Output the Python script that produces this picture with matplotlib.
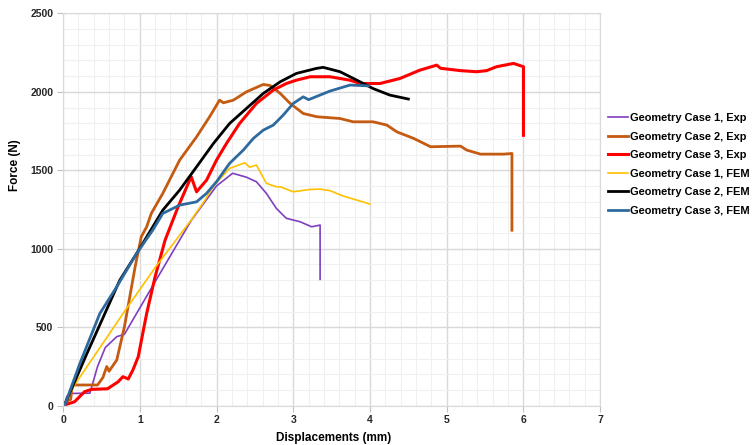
import matplotlib
matplotlib.use('Agg')
import matplotlib.pyplot as plt
from matplotlib.ticker import MultipleLocator

plt.rcParams['font.family'] = ['Liberation Sans', 'DejaVu Sans']

################################################################################
# Data

# Geometry Case 1, Exp
case1ExpX = [0.0, 0.02, 0.05, 0.1, 0.35, 0.45, 0.55, 0.7, 0.8, 1.2, 1.67, 2.0, 2.21,
	2.39, 2.52, 2.65, 2.78, 2.91, 3.09, 3.24, 3.35, 3.35]
case1ExpY = [0, 10, 60, 78, 80, 250, 370, 440, 455, 790, 1180, 1400, 1481,
	1456, 1427, 1353, 1257, 1194, 1172, 1140, 1151, 805]

# Geometry Case 2, Exp
case2ExpX = [0.0, 0.05, 0.1, 0.12, 0.45, 0.52, 0.57, 0.6, 0.7, 0.8, 0.94, 1.02, 1.09,
	1.15, 1.3, 1.52, 1.74, 1.91, 2.04, 2.09, 2.22, 2.39, 2.61, 2.7, 2.83, 2.96, 3.13,
	3.31, 3.61, 3.78, 4.04, 4.22, 4.35, 4.57, 4.79, 5.18, 5.26, 5.44, 5.74, 5.85, 5.85]
case2ExpY = [0, 30, 40, 132, 132, 180, 250, 220, 291, 503, 886, 1077, 1140,
	1225, 1353, 1565, 1713, 1841, 1947, 1930, 1947, 2000, 2047, 2040, 1990, 1926, 1862,
	1841, 1830, 1809, 1809, 1788, 1745, 1703, 1650, 1654, 1629, 1603, 1603, 1607, 1118]

# Geometry Case 3, Exp
case3ExpX = [0.0, 0.02, 0.15, 0.28, 0.37, 0.58, 0.72, 0.78, 0.85, 0.91, 0.98, 1.09,
	1.2, 1.33, 1.5, 1.67, 1.74, 1.87, 2.0, 2.13, 2.3, 2.52, 2.74, 2.91, 3.04, 3.22,
	3.48, 3.74, 3.87, 4.13, 4.39, 4.65, 4.87, 4.92, 5.18, 5.39, 5.52, 5.65, 5.87,
	6.0, 6.0]
case3ExpY = [0, 5, 25, 89, 104, 108, 153, 185, 170, 227, 312, 588,
	822, 1055, 1268, 1459, 1363, 1437, 1565, 1671, 1798, 1926, 2011, 2053, 2074, 2096,
	2096, 2074, 2053, 2053, 2085, 2138, 2170, 2150, 2135, 2128, 2135, 2160, 2181,
	2160, 1723]

# Geometry Case 1, FEM
case1FemX = [0.02, 0.15, 0.8, 1.2, 1.67, 1.85, 1.96, 2.17, 2.37, 2.43, 2.52, 2.65,
	2.78, 2.83, 3.0, 3.22, 3.35, 3.48, 3.65, 3.83, 4.0]
case1FemY = [5, 132, 600, 880, 1183, 1310, 1400, 1512, 1548, 1520, 1533, 1417,
	1395, 1395, 1363, 1378, 1380, 1370, 1336, 1310, 1285]

# Geometry Case 2, FEM
case2FemX = [0.02, 0.3, 0.74, 1.0, 1.3, 1.52, 1.74, 1.96, 2.17, 2.39, 2.61, 2.83,
	3.04, 3.3, 3.39, 3.61, 3.83, 4.04, 4.26, 4.5]
case2FemY = [5, 320, 800, 1002, 1246, 1374, 1522, 1671, 1798, 1894, 1990, 2064,
	2117, 2149, 2156, 2128, 2074, 2021, 1979, 1954]

# Geometry Case 3, FEM
case3FemX = [0.02, 0.22, 0.48, 0.7, 0.96, 1.17, 1.3, 1.52, 1.74, 1.87, 2.0, 2.17,
	2.35, 2.48, 2.61, 2.74, 2.87, 3.0, 3.13, 3.2, 3.48, 3.74, 3.98]
case3FemY = [0, 270, 588, 758, 971, 1119, 1225, 1278, 1299, 1353, 1427, 1544,
	1629, 1703, 1756, 1788, 1852, 1926, 1968, 1950, 2005, 2043, 2038]

labels = ['Geometry Case 1, Exp', 'Geometry Case 2, Exp', 'Geometry Case 3, Exp',
	'Geometry Case 1, FEM', 'Geometry Case 2, FEM', 'Geometry Case 3, FEM']

################################################################################
# Plot

fig = plt.figure(figsize=(7.54, 4.45), dpi=100)
ax = fig.add_axes([0.0836, 0.0883, 0.7124, 0.8817])

ax.plot(case1ExpX, case1ExpY, color='#7F3FBF', lw=1.2, label=labels[0])
ax.plot(case2ExpX, case2ExpY, color='#C55A11', lw=2.0, label=labels[1])
ax.plot(case3ExpX, case3ExpY, color='#FF0000', lw=2.2, label=labels[2])
ax.plot(case1FemX, case1FemY, color='#FFC000', lw=1.2, label=labels[3])
ax.plot(case2FemX, case2FemY, color='#000000', lw=2.0, label=labels[4])
ax.plot(case3FemX, case3FemY, color='#2E6A9E', lw=2.0, label=labels[5])

ax.set_xlim(0, 7)
ax.set_ylim(0, 2500)
ax.xaxis.set_major_locator(MultipleLocator(1))
ax.xaxis.set_minor_locator(MultipleLocator(0.2))
ax.yaxis.set_major_locator(MultipleLocator(500))
ax.yaxis.set_minor_locator(MultipleLocator(100))
ax.grid(which='major', color='#d9d9d9', lw=1.0)
ax.grid(which='minor', color='#f0f0f0', lw=0.8)
ax.set_axisbelow(True)
for s in ax.spines.values():
	s.set_color('#d9d9d9')
ax.tick_params(which='major', length=4, color='#bfbfbf', labelsize=7.5, pad=3)
ax.tick_params(which='minor', length=0)
for t in ax.get_xticklabels() + ax.get_yticklabels():
	t.set_fontweight('bold')
	t.set_color('#262626')

ax.set_xlabel('Displacements (mm)', fontsize=8.5, fontweight='bold')
ax.set_ylabel('Force (N)', fontsize=8.5, fontweight='bold')
ax.xaxis.set_label_coords(0.504, -0.068)
ax.yaxis.set_label_coords(-0.078, 0.613)

ax.legend(loc='center left', bbox_to_anchor=(1.015, 0.615), frameon=False,
	prop={'weight': 'bold', 'size': 7.9}, handlelength=1.8, handletextpad=0.15,
	labelspacing=0.78, borderpad=0, borderaxespad=0)

plt.savefig('out.png', dpi=100)
